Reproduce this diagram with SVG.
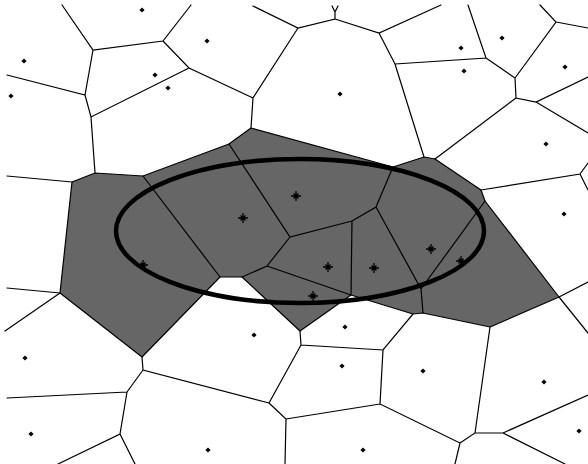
<svg xmlns="http://www.w3.org/2000/svg" width="588" height="464" viewBox="0 0 588 464">
<style>
.e{stroke:#000;stroke-width:1.2;fill:none;stroke-linecap:round}
.g{fill:#666;stroke:#000;stroke-width:1.2;stroke-linejoin:round}
.s{stroke:#000;stroke-width:1.3;fill:none}
.ell{fill:none;stroke:#000;stroke-width:4.5}
</style>
<defs>
<path id="d" d="M0,-2.6 L2.6,0 L0,2.6 L-2.6,0 Z" fill="#000"/>
<g id="st"><path class="s" d="M-5,0 H5 M0,-5 V5 M-2.5,-2.5 L2.5,2.5 M-2.5,2.5 L2.5,-2.5"/><circle r="1.6" fill="#000"/></g>
</defs>
<rect width="588" height="464" fill="#fff"/>
<polygon class="g" points="72,182 95,173 143,176 229,144 251,128 393,167 424,157 435,159 481,190 485,201 559,297 490,327 423,313 413,314 351,295 300,331 242,277 220,277 142,357 60,293"/>
<g id="inner">
<path class="e" d="M143,176 L220,277 M229,144 L290,237 L352,221 M290,237 L267,266 L242,277 M267,266 L351,295 M352,221 L351,295 M352,221 L376,207 L393,167 M376,207 L421,289 L423,313 M421,289 L485,201"/>
</g>
<g id="edges">
<path class="e" d="M62,5 L93,50 L163,41 L191,5 M163,41 L189,68 L253,98 M93,50 L85,95 L7,75 M85,95 L91,117 L189,68 M91,117 L95,173
M253,6 L298,28 L335,19 L335,12 L332,6 M335,12 L338,6 M335,19 L379,33 L441,5 M379,33 L395,64 M298,28 L253,98 L251,128
M395,64 L486,58 L468,5 M395,64 L424,157 M486,58 L515,78 L556,22 L540,5 M556,22 L588,28 M515,78 L516,98 L536,102 L588,77 M536,102 L588,133 M516,98 L435,159
M481,190 L580,174 L588,163 M580,174 L588,190
M7,176 L72,182 M60,293 L7,288 M60,293 L5,331 M559,297 L588,282 M559,297 L588,333
M142,357 L143,370 L269,403 M143,370 L127,392 L7,398 M127,392 L120,434 L58,464 M120,434 L135,464
M269,403 L301,345 M269,403 L286,419 L285,464 M286,419 L380,404 M300,331 L301,345 L383,350 L413,314 M383,350 L380,404 L460,443 L455,464 M460,443 L475,433 L490,327 M475,433 L503,433 L588,395 M503,433 L565,464"/>
</g>
<g id="sites">
<use href="#d" x="142" y="10"/><use href="#d" x="24" y="61"/><use href="#d" x="155" y="75"/><use href="#d" x="168" y="88"/><use href="#d" x="11" y="96"/><use href="#d" x="207" y="41"/><use href="#d" x="340" y="94"/><use href="#d" x="461" y="48"/><use href="#d" x="502" y="38"/><use href="#d" x="464" y="71"/><use href="#d" x="565" y="67"/><use href="#d" x="546" y="144"/><use href="#d" x="564" y="214"/><use href="#d" x="254" y="335"/><use href="#d" x="345" y="327"/><use href="#d" x="342" y="366"/><use href="#d" x="208" y="450"/><use href="#d" x="363" y="450"/><use href="#d" x="423" y="371"/><use href="#d" x="544" y="382"/><use href="#d" x="579" y="431"/><use href="#d" x="25" y="358"/><use href="#d" x="31" y="434"/>
</g>
<g id="stars">
<use href="#st" x="243" y="218"/><use href="#st" x="296" y="196"/><use href="#st" x="328" y="267"/><use href="#st" x="374" y="268"/><use href="#st" x="431" y="249"/><use href="#st" x="313" y="296"/><use href="#st" x="143" y="265"/><use href="#st" x="461" y="261"/>
</g>
<ellipse class="ell" cx="300" cy="231" rx="184" ry="72"/>
</svg>
